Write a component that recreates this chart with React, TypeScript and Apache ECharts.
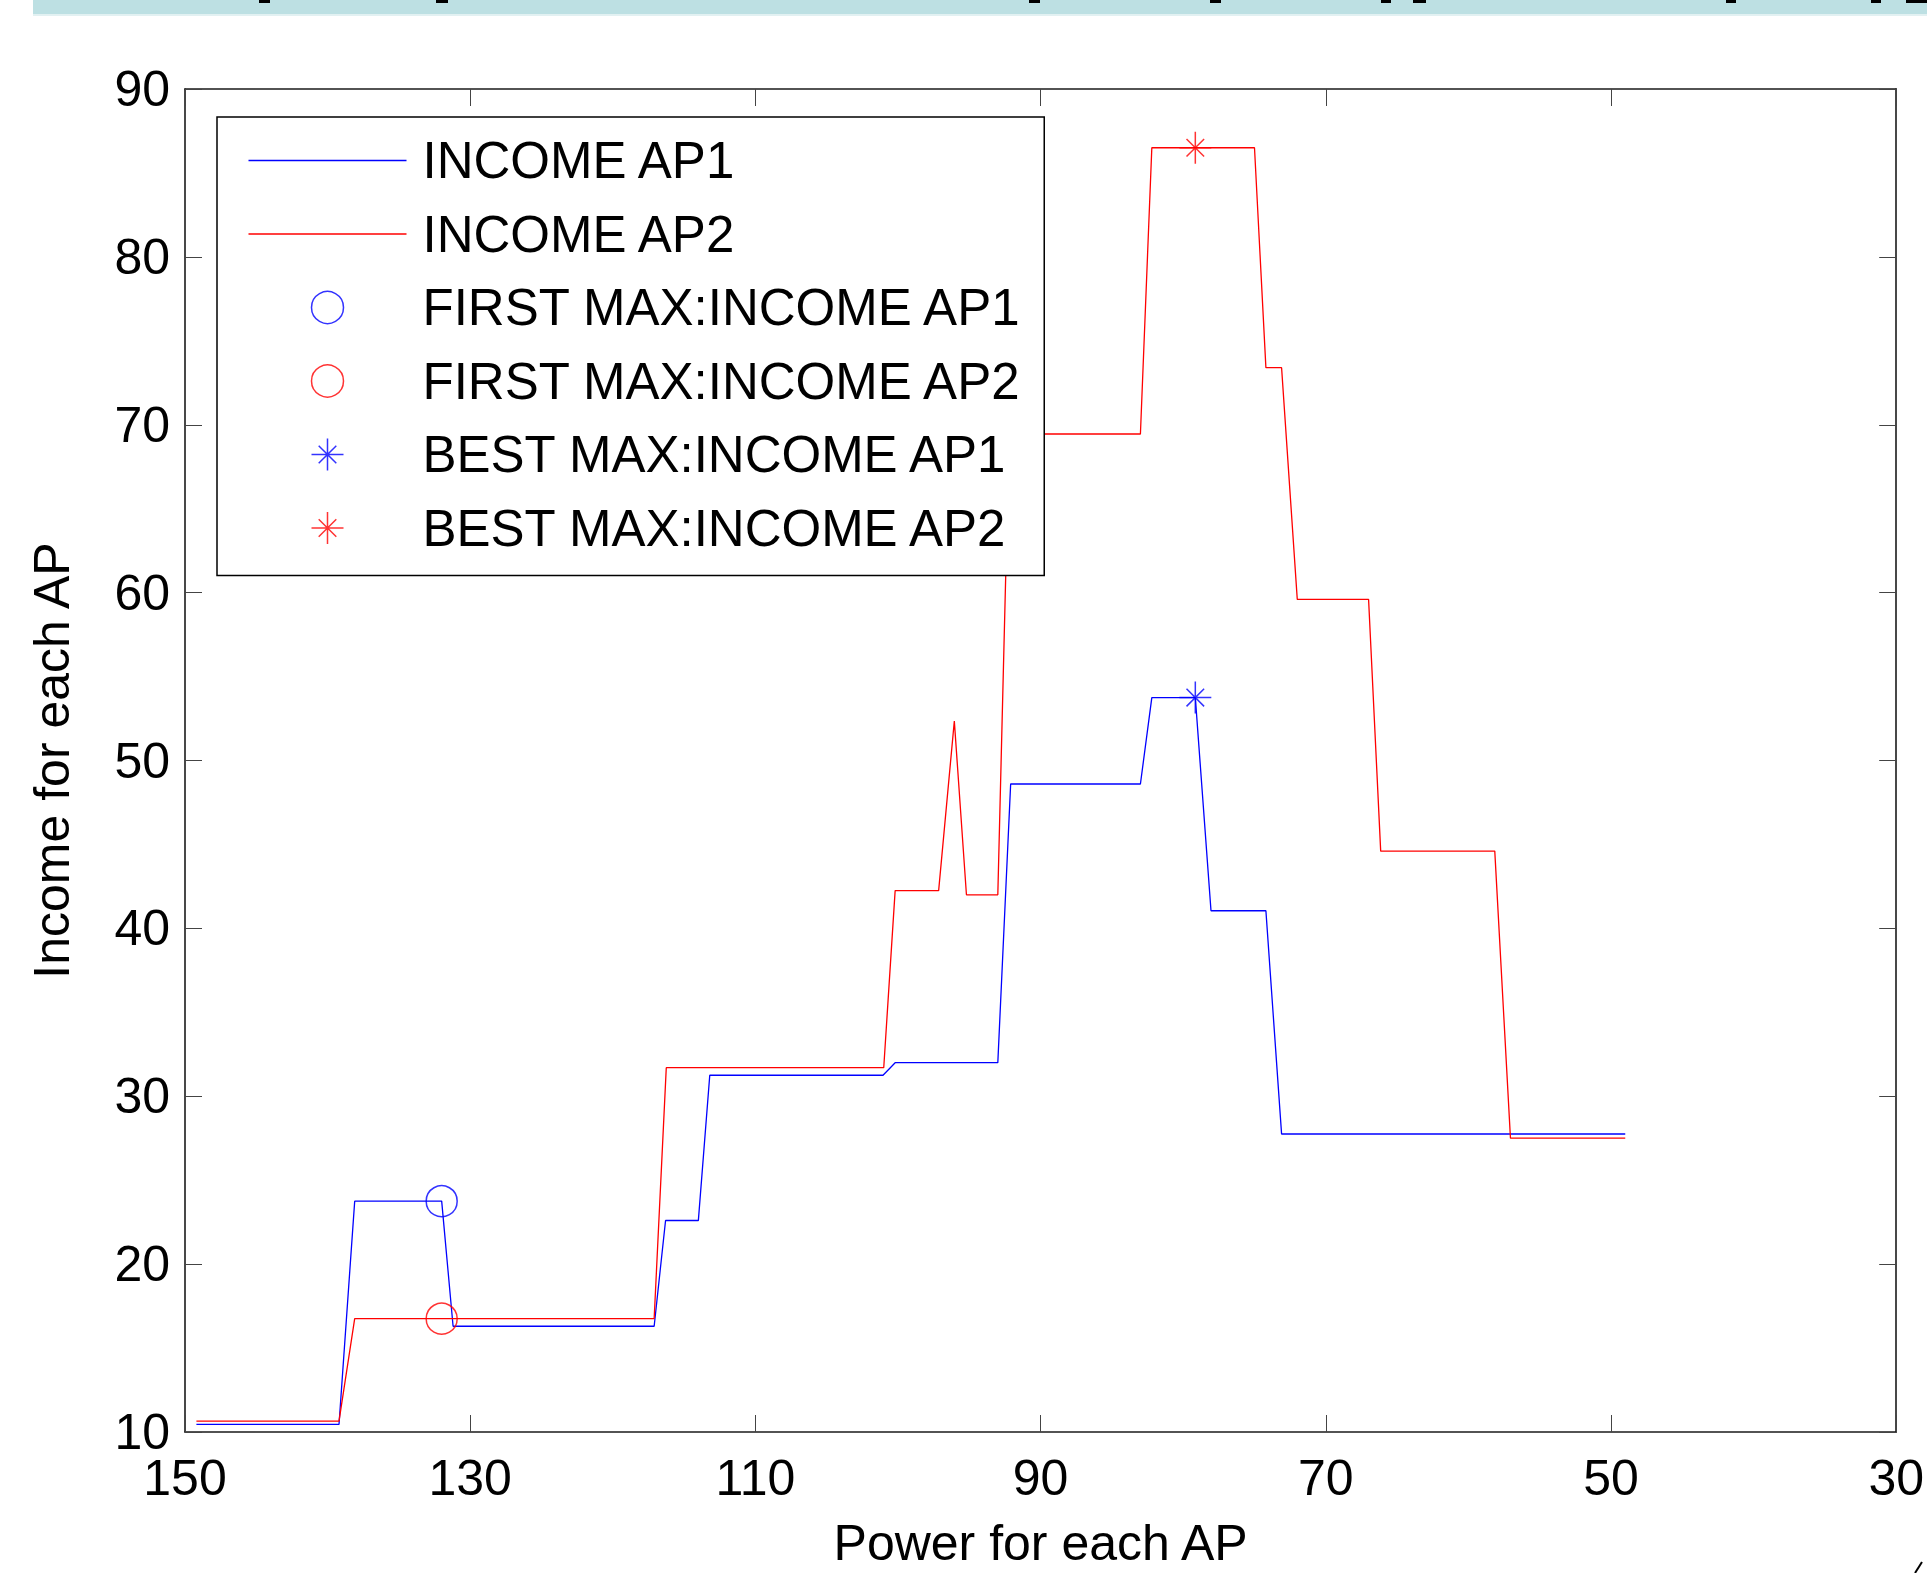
import React, { useEffect, useRef } from "react";
import * as echarts from "echarts";

// ---- data ----
const xTicks = [150, 130, 110, 90, 70, 50, 30];
const yTicks = [10, 20, 30, 40, 50, 60, 70, 80, 90];

const ap1X = [149.2, 139.2, 138.1, 132.0, 131.2, 117.1, 116.3, 114.0, 113.2, 101.05, 100.2, 93.0, 92.1, 83.0, 82.2, 79.15, 78.05, 74.2, 73.1, 49.0];
const ap1Y = [10.45, 10.45, 23.75, 23.75, 16.3, 16.3, 22.6, 22.6, 31.25, 31.25, 32.0, 32.0, 48.6, 48.6, 53.75, 53.75, 41.05, 41.05, 27.75, 27.75];

const ap2X = [149.2, 139.2, 138.1, 117.1, 116.25, 101.0, 100.2, 97.15, 96.05, 95.2, 93.0, 92.2, 83.0, 82.2, 75.0, 74.2, 73.1, 72.0, 67.0, 66.15, 58.15, 57.05, 49.0];
const ap2Y = [10.65, 10.65, 16.75, 16.75, 31.7, 31.7, 42.25, 42.25, 52.35, 42.0, 42.0, 69.45, 69.45, 86.5, 86.5, 73.4, 73.4, 59.6, 59.6, 44.6, 44.6, 27.5, 27.5];

const firstMax1 = [132.0, 23.75];
const firstMax2 = [132.0, 16.75];
const bestMax1 = [79.15, 53.75];
const bestMax2 = [79.15, 86.5];

const seriesNames = [
  "INCOME AP1",
  "INCOME AP2",
  "FIRST MAX:INCOME AP1",
  "FIRST MAX:INCOME AP2",
  "BEST MAX:INCOME AP1",
  "BEST MAX:INCOME AP2",
];

const FONT = "'Liberation Sans', Arial, Helvetica, sans-serif";
const BLUE = "#0000ff";
const RED = "#ff0000";
const STAR =
  "path://M0,-1L0,1M-1,0L1,0M-0.55,-0.55L0.55,0.55M-0.55,0.55L0.55,-0.55";
const LINE_ICON = "path://M0,0L158,0L158,1.3L0,1.3Z";

const zip = (xs: number[], ys: number[]) => xs.map((x, i) => [x, ys[i]]);

export default function App() {
  const ref = useRef<HTMLDivElement>(null);

  useEffect(() => {
    document.body.style.margin = "0";
    document.body.style.overflow = "hidden";
    document.documentElement.style.overflow = "hidden";
    if (!ref.current) return;
    const chart = echarts.init(ref.current, undefined, { renderer: "svg", width: 1927, height: 1573 });

    const axisCommon = {
      type: "value" as const,
      axisLine: { show: true, lineStyle: { color: "#1a1a1a", width: 1.6 } },
      axisTick: { show: true, inside: true, length: 17, lineStyle: { color: "#444", width: 1 } },
      splitLine: { show: false },
    };

    const xCommon = {
      ...axisCommon,
      min: 30,
      max: 150,
      interval: 20,
      inverse: true,
    };
    const yCommon = {
      ...axisCommon,
      min: 10,
      max: 90,
      interval: 10,
    };

    const hollow = (c: string) => ({ color: "rgba(0,0,0,0)", borderColor: c, borderWidth: 1.5 });

    const fragments = [
      [259, 11], [436, 12], [1029, 11], [1210, 11], [1381, 10], [1413, 13], [1726, 10], [1871, 10], [1906, 21],
    ];

    chart.setOption({
      animation: false,
      backgroundColor: "#ffffff",
      textStyle: { fontFamily: FONT },
      graphic: [
        { type: "rect", shape: { x: 33, y: 0, width: 1894, height: 14 }, style: { fill: "#bde0e3" }, silent: true },
        { type: "rect", shape: { x: 33, y: 14, width: 1894, height: 2 }, style: { fill: "#e2f1f2" }, silent: true },
        ...fragments.map(([x, w]) => ({
          type: "rect",
          shape: { x, y: 0, width: w, height: 3 },
          style: { fill: "#000" },
          silent: true,
        })),
        { type: "line", shape: { x1: 1915, y1: 1573, x2: 1922, y2: 1562 }, style: { stroke: "#000", lineWidth: 2 }, silent: true },
      ],
      grid: { left: 185, right: 27, top: 89, bottom: 132, containLabel: false },
      xAxis: [
        {
          ...xCommon,
          position: "bottom",
          name: "Power for each AP",
          nameLocation: "middle",
          nameGap: 86,
          nameTextStyle: { fontSize: 50, color: "#000", fontFamily: FONT },
          axisLabel: {
            show: true,
            fontSize: 50,
            color: "#000",
            fontFamily: FONT,
            margin: 21,
            customValues: xTicks,
          },
        },
        { ...xCommon, position: "top", axisLabel: { show: false } },
      ],
      yAxis: [
        {
          ...yCommon,
          position: "left",
          name: "Income for each AP",
          nameLocation: "middle",
          nameGap: 108,
          nameTextStyle: { fontSize: 50, color: "#000", fontFamily: FONT },
          axisLabel: {
            show: true,
            fontSize: 50,
            color: "#000",
            fontFamily: FONT,
            margin: 15,
            customValues: yTicks,
          },
        },
        { ...yCommon, position: "right", axisLabel: { show: false } },
      ],
      legend: {
        orient: "vertical",
        left: 217,
        top: 117,
        padding: [18, 21, 22, 31.5],
        itemWidth: 158,
        itemHeight: 32,
        itemGap: 22.5,
        backgroundColor: "#ffffff",
        borderColor: "#000",
        borderWidth: 1.5,
        selectedMode: false,
        textStyle: { fontSize: 51, lineHeight: 50, color: "#000", fontFamily: FONT, padding: [0, 0, 0, 11] },
        data: [
          { name: seriesNames[0], icon: LINE_ICON, itemStyle: { color: BLUE, borderWidth: 0 } },
          { name: seriesNames[1], icon: LINE_ICON, itemStyle: { color: RED, borderWidth: 0 } },
          { name: seriesNames[2], icon: "circle", itemStyle: hollow(BLUE) },
          { name: seriesNames[3], icon: "circle", itemStyle: hollow(RED) },
          { name: seriesNames[4], icon: STAR, itemStyle: hollow(BLUE) },
          { name: seriesNames[5], icon: STAR, itemStyle: hollow(RED) },
        ],
      },
      series: [
        {
          name: seriesNames[0],
          type: "line",
          data: zip(ap1X, ap1Y),
          symbol: "none",
          showSymbol: false,
          lineStyle: { color: BLUE, width: 1.3 },
          itemStyle: { color: BLUE },
          z: 3,
        },
        {
          name: seriesNames[1],
          type: "line",
          data: zip(ap2X, ap2Y),
          symbol: "none",
          showSymbol: false,
          lineStyle: { color: RED, width: 1.3 },
          itemStyle: { color: RED },
          z: 3,
        },
        {
          name: seriesNames[2],
          type: "scatter",
          data: [firstMax1],
          symbol: "circle",
          symbolSize: 31,
          itemStyle: hollow(BLUE),
          z: 4,
        },
        {
          name: seriesNames[3],
          type: "scatter",
          data: [firstMax2],
          symbol: "circle",
          symbolSize: 31,
          itemStyle: hollow(RED),
          z: 4,
        },
        {
          name: seriesNames[4],
          type: "scatter",
          data: [bestMax1],
          symbol: STAR,
          symbolSize: 32,
          itemStyle: hollow(BLUE),
          z: 4,
        },
        {
          name: seriesNames[5],
          type: "scatter",
          data: [bestMax2],
          symbol: STAR,
          symbolSize: 32,
          itemStyle: hollow(RED),
          z: 4,
        },
      ],
    });

    return () => chart.dispose();
  }, []);

  return (
    <div
      ref={ref}
      style={{ position: "fixed", left: 0, top: 0, width: 1927, height: 1573 }}
    />
  );
}
